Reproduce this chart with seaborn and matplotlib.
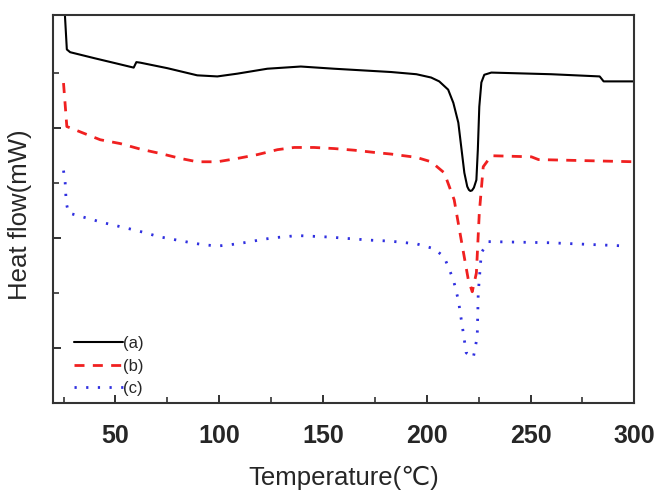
import numpy as np
import pandas as pd
import matplotlib
matplotlib.use("Agg")
import matplotlib.pyplot as plt
import seaborn as sns
from matplotlib.ticker import MultipleLocator, FixedLocator

# DSC traces (temperature in degC, heat flow in arbitrary offset units)
temp_a = [25.0, 26.6, 28.2, 40.0, 50.0, 58.8, 60.1, 62.0, 75.0, 89.4, 99.1, 108.7, 123.2,
          139.3, 155.3, 182.8, 195.0, 202.1, 206.0, 210.3, 212.8, 215.2, 216.6, 218.1,
          219.5, 220.3, 221.0, 221.8, 222.7, 223.9, 224.6, 225.3, 226.3, 227.7, 231.1,
          260.0, 283.3, 285.2, 300.2]
flow_a = [7.50, 6.42, 6.37, 6.26, 6.17, 6.09, 6.19, 6.18, 6.08, 5.95, 5.93, 5.98, 6.07,
          6.11, 6.07, 6.01, 5.97, 5.91, 5.84, 5.69, 5.45, 5.09, 4.65, 4.18,
          3.93, 3.87, 3.85, 3.86, 3.91, 4.05, 4.60, 5.38, 5.82, 5.96, 6.00,
          5.97, 5.93, 5.84, 5.84]

temp_b = [25.0, 26.6, 34.6, 42.7, 52.4, 62.0, 71.7, 81.4, 89.4, 99.1, 108.7, 118.4, 128.1,
          136.1, 145.7, 155.4, 165.1, 174.7, 182.8, 195.0, 202.1, 208.4, 213.2, 216.6,
          220.0, 221.9, 223.9, 225.3, 227.2, 231.1, 250.4, 253.8, 300.2]
flow_b = [5.81, 5.02, 4.90, 4.78, 4.71, 4.61, 4.53, 4.44, 4.38, 4.38, 4.44, 4.51, 4.60,
          4.64, 4.64, 4.62, 4.59, 4.55, 4.52, 4.46, 4.38, 4.18, 3.69, 2.96,
          2.24, 2.02, 2.36, 3.45, 4.29, 4.49, 4.47, 4.42, 4.38]

temp_c = [25.0, 25.8, 26.3, 27.4, 32.2, 37.9, 43.5, 49.1, 54.8, 60.4, 65.3, 70.9, 76.5,
          82.2, 87.8, 93.4, 99.1, 104.7, 110.3, 115.2, 120.8, 126.4, 132.1, 137.7, 143.3,
          149.0, 154.6, 160.2, 165.1, 170.7, 176.4, 182.0, 195.0, 203.6, 208.4, 212.8,
          215.2, 217.6, 219.0, 222.4, 224.3, 224.8, 226.3, 229.7, 258.7, 296.3]
flow_c = [4.22, 4.00, 3.64, 3.45, 3.40, 3.34, 3.28, 3.23, 3.18, 3.13, 3.08, 3.02, 2.98,
          2.94, 2.90, 2.87, 2.85, 2.87, 2.90, 2.93, 2.97, 3.00, 3.02, 3.04, 3.03,
          3.02, 3.01, 2.99, 2.98, 2.96, 2.95, 2.94, 2.89, 2.80, 2.65, 2.24,
          1.87, 1.27, 0.91, 0.82, 1.20, 2.00, 2.73, 2.93, 2.91, 2.85]

labels = ["(a)", "(b)", "(c)"]

sns.set_style("ticks")
plt.rcParams["font.family"] = ["Liberation Sans", "DejaVu Sans"]

fig = plt.figure(figsize=(6.56, 4.92), dpi=100)
ax = fig.add_axes([0.081, 0.181, 0.886, 0.789])

sns.lineplot(x=temp_a, y=flow_a, ax=ax, color="black", lw=1.5, sort=False,
             estimator=None, label=labels[0])
sns.lineplot(x=temp_b, y=flow_b, ax=ax, color="#f02020", lw=2.0, sort=False,
             estimator=None, label=labels[1], linestyle=(0, (3.6, 3.0)))
sns.lineplot(x=temp_c, y=flow_c, ax=ax, color="#3030e0", lw=2.0, sort=False,
             estimator=None, label=labels[2], linestyle=(0, (0.8, 3.4)))

ax.set_xlim(20, 300)
ax.set_ylim(0, 7.05)
ax.xaxis.set_major_locator(MultipleLocator(50))
ax.xaxis.set_minor_locator(MultipleLocator(25))
ax.yaxis.set_major_locator(FixedLocator([1, 3, 5]))
ax.yaxis.set_minor_locator(FixedLocator([0, 2, 4, 6]))
ax.set_yticklabels([])
ax.tick_params(axis="both", which="both", direction="in", top=False, right=False,
               color="#222222")
ax.tick_params(axis="both", which="major", length=6, width=1.3)
ax.tick_params(axis="both", which="minor", length=4, width=1.1)
ax.tick_params(axis="x", labelsize=18, pad=15)
for lab in ax.get_xticklabels():
    lab.set_fontweight("bold")

for sp in ax.spines.values():
    sp.set_linewidth(1.5)
    sp.set_color("#333333")

ax.set_xlabel("Temperature(℃)", fontsize=18.5, labelpad=13)
ax.set_ylabel("Heat flow(mW)", fontsize=18.5)
ax.yaxis.set_label_coords(-0.036, 0.485)

leg = ax.legend(loc="lower left", frameon=False, fontsize=12, handlelength=2.95,
                handletextpad=0.0, labelspacing=0.45, borderaxespad=0.0,
                bbox_to_anchor=(0.024, 0.0))

fig.savefig("out.png", dpi=100)
